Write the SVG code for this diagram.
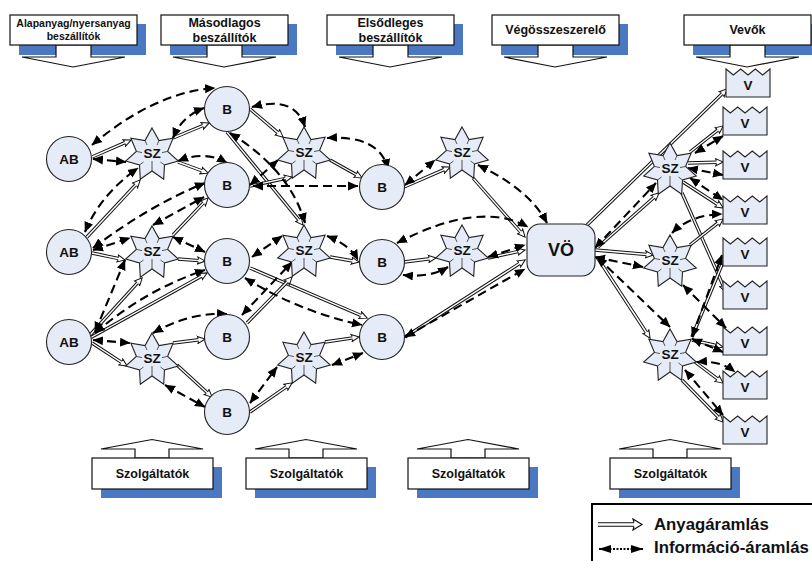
<svg xmlns="http://www.w3.org/2000/svg" width="812" height="561" viewBox="0 0 812 561">
<style>
text{font-family:"Liberation Sans",Arial,sans-serif;font-weight:bold;fill:#111;text-anchor:middle}
.n{fill:#e6ecf7;stroke:#222;stroke-width:1.1}
.r{fill:none;stroke:#444;stroke-width:.9}
.t{font-size:13.5px}
.s{fill:#4a78c2}
.w{fill:#fff;stroke:#111;stroke-width:1.2}
.h{font-size:12.5px}
.mo{fill:none;stroke:#111;stroke-width:3.4}
.mi{fill:none;stroke:#fff;stroke-width:1.4;marker-end:url(#mh)}
.d{fill:none;stroke:#000;stroke-width:2.1;stroke-dasharray:9 5;marker-start:url(#dh);marker-end:url(#dh)}
</style>
<defs>
<marker id="mh" markerUnits="userSpaceOnUse" markerWidth="12" markerHeight="12" refX="2" refY="6" orient="auto" viewBox="0 0 12 12"><path d="M1.5 4.300L.5 2.400L8.200 6L.5 9.600L1.500 7.700" fill="#fff" stroke="#111" stroke-width="1"/></marker>
<marker id="dh" markerUnits="userSpaceOnUse" markerWidth="11" markerHeight="10" refX="10" refY="5" orient="auto-start-reverse" viewBox="0 0 11 10"><path d="M0 .5L10.500 5L0 9.500Z" fill="#000"/></marker>
<marker id="lh" markerUnits="userSpaceOnUse" markerWidth="13" markerHeight="10" refX="12" refY="5" orient="auto-start-reverse" viewBox="0 0 13 10"><path d="M0 1L12.500 5L0 9Z" fill="#000"/></marker>
<marker id="lm" markerUnits="userSpaceOnUse" markerWidth="12" markerHeight="14" refX="2" refY="7" orient="auto" viewBox="0 0 12 14"><path d="M2 4.800L1 1.500L10 7L1 12.500L2 9.200" fill="#fff" stroke="#111" stroke-width="1.200"/></marker>
<g id="star"><path class="n" d="M0-27L7-14.400L21.100-16.800L15.600-3.600L26.300 6L12.500 10L11.700 24.300L0 16L-11.700 24.300L-12.500 10L-26.300 6L-15.600-3.600L-21.100-16.800L-7-14.400Z"/><path class="r" d="M7-14.400L5-10M15.600-3.600L10-2.400M12.500 10L8.500 7M0 16V6M-12.500 10L-8.500 7M-15.600-3.600L-10-2.400M-7-14.400L-5-10"/></g>
<path id="crown" class="n" d="M0 0L7.300 6L14.700 0L22 6L29.300 0L36.700 6L44 0V28H0Z"/>
<g id="top"><rect class="s" x="9" y="9" width="127" height="31"/><path class="w" d="M46 30V42H12L63 52L115 42H81V30Z"/><rect class="w" width="127" height="30"/></g>
<g id="bot"><rect class="s" x="9" y="9" width="121" height="31"/><path class="w" d="M43 0V-9H9L60-18.500L111-9H77V0Z"/><rect class="w" width="121" height="31"/></g>
</defs>

<g id="connectors">
<g id="material">
<path class="mo" d="M92 157L125.500 142.400"/><path class="mi" d="M92 157L125.500 142.400"/>
<path class="mo" d="M173 138L203.500 125.300"/><path class="mi" d="M173 138L203.500 125.300"/>
<path class="mo" d="M178 162L202.400 171"/><path class="mi" d="M178 162L202.400 171"/>
<path class="mo" d="M87 237L136 184.400"/><path class="mi" d="M87 237L136 184.400"/>
<path class="mo" d="M92 253L119 258.700"/><path class="mi" d="M92 253L119 258.700"/>
<path class="mo" d="M173 235L203.900 202.400"/><path class="mi" d="M173 235L203.900 202.400"/>
<path class="mo" d="M178 259L199 260.600"/><path class="mi" d="M178 259L199 260.600"/>
<path class="mo" d="M90 335L138 282.400"/><path class="mi" d="M90 335L138 282.400"/>
<path class="mo" d="M90 338L201.800 275.900"/><path class="mi" d="M90 338L201.800 275.900"/>
<path class="mo" d="M92 343L122 362.700"/><path class="mi" d="M92 343L122 362.700"/>
<path class="mo" d="M173 343L199 339.800"/><path class="mi" d="M173 343L199 339.800"/>
<path class="mo" d="M177 365L207.600 393"/><path class="mi" d="M177 365L207.600 393"/>
<path class="mo" d="M227 132L299.200 220.400"/><path class="mi" d="M227 132L299.200 220.400"/>
<path class="mo" d="M250 109L278.400 133.100"/><path class="mi" d="M250 109L278.400 133.100"/>
<path class="mo" d="M250 186L286.100 178.300"/><path class="mi" d="M250 186L286.100 178.300"/>
<path class="mo" d="M250 268L361.500 315.700"/><path class="mi" d="M250 268L361.500 315.700"/>
<path class="mo" d="M247 323L287.800 281.300"/><path class="mi" d="M247 323L287.800 281.300"/>
<path class="mo" d="M250 412L287 386.400"/><path class="mi" d="M250 412L287 386.400"/>
<path class="mo" d="M330 160L356.800 175"/><path class="mi" d="M330 160L356.800 175"/>
<path class="mo" d="M330 257L353 261"/><path class="mi" d="M330 257L353 261"/>
<path class="mo" d="M325 342L353 337.900"/><path class="mi" d="M325 342L353 337.900"/>
<path class="mo" d="M404 187L444.500 169.400"/><path class="mi" d="M404 187L444.500 169.400"/>
<path class="mo" d="M404 262L430 258.700"/><path class="mi" d="M404 262L430 258.700"/>
<path class="mo" d="M473 178L521 232.500"/><path class="mi" d="M473 178L521 232.500"/>
<path class="mo" d="M488 258L519 251.300"/><path class="mi" d="M488 258L519 251.300"/>
<path class="mo" d="M405 337L520 263.200"/><path class="mi" d="M405 337L520 263.200"/>
<path class="mo" d="M587 225L722.700 93.200"/><path class="mi" d="M587 225L722.700 93.200"/>
<path class="mo" d="M598 247L654.500 197"/><path class="mi" d="M598 247L654.500 197"/>
<path class="mo" d="M595 250L647 254.500"/><path class="mi" d="M595 250L647 254.500"/>
<path class="mo" d="M597 257L646.700 333"/><path class="mi" d="M597 257L646.700 333"/>
<path class="mo" d="M690 152L718.300 129.700"/><path class="mi" d="M690 152L718.300 129.700"/>
<path class="mo" d="M688 163L717 162.200"/><path class="mi" d="M688 163L717 162.200"/>
<path class="mo" d="M683 182L718 204.700"/><path class="mi" d="M683 182L718 204.700"/>
<path class="mo" d="M682 193L723.500 286.500"/><path class="mi" d="M682 193L723.500 286.500"/>
<path class="mo" d="M690 245L718.300 222.700"/><path class="mi" d="M690 245L718.300 222.700"/>
<path class="mo" d="M692 337L723.700 260.500"/><path class="mi" d="M692 337L723.700 260.500"/>
<path class="mo" d="M692 340L717 345.700"/><path class="mi" d="M692 340L717 345.700"/>
<path class="mo" d="M695 362L718.200 379.400"/><path class="mi" d="M695 362L718.200 379.400"/>
<path class="mo" d="M682 380L718.800 417.700"/><path class="mi" d="M682 380L718.800 417.700"/>
</g>
<g id="information">
<path class="d" d="M92 145Q155 92 215 88"/>
<path class="d" d="M93 159L126 162"/>
<path class="d" d="M173 138Q182 116 204 108"/>
<path class="d" d="M178 161Q205 150 227 163"/>
<path class="d" d="M85 232Q100 195 138 168"/>
<path class="d" d="M93 248Q150 205 205 183"/>
<path class="d" d="M153 225L204 197"/>
<path class="d" d="M93 250L130 238"/>
<path class="d" d="M173 237L205 252"/>
<path class="d" d="M95 332L125 260"/>
<path class="d" d="M95 333Q145 290 205 270"/>
<path class="d" d="M93 340L130 343"/>
<path class="d" d="M153 333Q190 312 227 314"/>
<path class="d" d="M165 385L205 407"/>
<path class="d" d="M250 403L277 367"/>
<path class="d" d="M252 107Q295 95 305 127"/>
<path class="d" d="M250 185L278 160"/>
<path class="d" d="M253 186H358"/>
<path class="d" d="M230 133Q290 170 305 223"/>
<path class="d" d="M327 138Q380 135 388 169"/>
<path class="d" d="M252 257L282 236"/>
<path class="d" d="M242 315L292 262"/>
<path class="d" d="M327 236Q350 245 358 260"/>
<path class="d" d="M245 278Q300 312 362 325"/>
<path class="d" d="M332 365L363 353"/>
<path class="d" d="M405 185L435 160"/>
<path class="d" d="M403 275Q430 278 448 267"/>
<path class="d" d="M478 165Q530 190 547 223"/>
<path class="d" d="M488 257L525 245"/>
<path class="d" d="M397 243Q480 200 528 227"/>
<path class="d" d="M405 337L525 269"/>
<path class="d" d="M595 248L656 183"/>
<path class="d" d="M695 153L723 136"/>
<path class="d" d="M688 168L723 175"/>
<path class="d" d="M690 178L723 200"/>
<path class="d" d="M672 233Q690 215 722 214"/>
<path class="d" d="M595 257L643 267"/>
<path class="d" d="M597 257L670 327"/>
<path class="d" d="M683 285L726 328"/>
<path class="d" d="M692 337L722 255"/>
<path class="d" d="M692 339L723 352"/>
<path class="d" d="M697 362Q720 360 735 372"/>
<path class="d" d="M685 370L723 415"/>
</g>
</g>

<g id="hdr-1" transform="translate(10,15)"><use href="#top"/><text x="63.500" y="12" font-size="10.500">Alapanyag/nyersanyag</text><text x="63.500" y="25" font-size="10.500">beszállítók</text></g>
<g id="hdr-2" transform="translate(161,15)"><use href="#top"/><text class="h" x="63.500" y="12">Másodlagos</text><text class="h" x="63.500" y="27">beszállítók</text></g>
<g id="hdr-3" transform="translate(327,15)"><use href="#top"/><text class="h" x="63.500" y="12">Elsődleges</text><text class="h" x="63.500" y="27">beszállítók</text></g>
<g id="hdr-4" transform="translate(492,15)"><use href="#top"/><text class="h" x="63.500" y="19">Végösszeszerelő</text></g>
<g id="hdr-5" transform="translate(684,15)"><use href="#top"/><text class="h" x="63.500" y="19">Vevők</text></g>

<g id="svc-1" transform="translate(92,458)"><use href="#bot"/><text class="h" x="60.500" y="20">Szolgáltatók</text></g>
<g id="svc-2" transform="translate(246,458)"><use href="#bot"/><text class="h" x="60.500" y="20">Szolgáltatók</text></g>
<g id="svc-3" transform="translate(408,458)"><use href="#bot"/><text class="h" x="60.500" y="20">Szolgáltatók</text></g>
<g id="svc-4" transform="translate(610,458)"><use href="#bot"/><text class="h" x="60.500" y="20">Szolgáltatók</text></g>

<g id="ab-1" transform="translate(69,159)"><circle class="n" r="22.500"/><text class="t" y="5">AB</text></g>
<g id="ab-2" transform="translate(69,252)"><circle class="n" r="22.500"/><text class="t" y="5">AB</text></g>
<g id="ab-3" transform="translate(69,342)"><circle class="n" r="22.500"/><text class="t" y="5">AB</text></g>
<g id="b-1" transform="translate(227,109)"><circle class="n" r="22.500"/><text class="t" y="5">B</text></g>
<g id="b-2" transform="translate(227,185)"><circle class="n" r="22.500"/><text class="t" y="5">B</text></g>
<g id="b-3" transform="translate(227,261)"><circle class="n" r="22.500"/><text class="t" y="5">B</text></g>
<g id="b-4" transform="translate(227,337)"><circle class="n" r="22.500"/><text class="t" y="5">B</text></g>
<g id="b-5" transform="translate(227,412)"><circle class="n" r="22.500"/><text class="t" y="5">B</text></g>
<g id="b-6" transform="translate(382,187)"><circle class="n" r="22.500"/><text class="t" y="5">B</text></g>
<g id="b-7" transform="translate(382,262)"><circle class="n" r="22.500"/><text class="t" y="5">B</text></g>
<g id="b-8" transform="translate(382,337)"><circle class="n" r="22.500"/><text class="t" y="5">B</text></g>

<g id="sz-1" transform="translate(152,155)"><use href="#star"/><text class="t" y="3">SZ</text></g>
<g id="sz-2" transform="translate(152,253)"><use href="#star"/><text class="t" y="3">SZ</text></g>
<g id="sz-3" transform="translate(152,360)"><use href="#star"/><text class="t" y="3">SZ</text></g>
<g id="sz-4" transform="translate(304,154)"><use href="#star"/><text class="t" y="3">SZ</text></g>
<g id="sz-5" transform="translate(304,252)"><use href="#star"/><text class="t" y="3">SZ</text></g>
<g id="sz-6" transform="translate(304,359)"><use href="#star"/><text class="t" y="3">SZ</text></g>
<g id="sz-7" transform="translate(462,154)"><use href="#star"/><text class="t" y="3">SZ</text></g>
<g id="sz-8" transform="translate(462,252)"><use href="#star"/><text class="t" y="3">SZ</text></g>
<g id="sz-9" transform="translate(670,170)"><use href="#star"/><text class="t" y="3">SZ</text></g>
<g id="sz-10" transform="translate(670,262)"><use href="#star"/><text class="t" y="3">SZ</text></g>
<g id="sz-11" transform="translate(670,356)"><use href="#star"/><text class="t" y="3">SZ</text></g>

<g id="vo"><rect class="n" x="527" y="224" width="68" height="52" rx="13"/><text x="561" y="256" font-size="18">VÖ</text></g>

<g id="v-1" transform="translate(726,69)"><use href="#crown"/><text class="t" x="22" y="21">V</text></g>
<g id="v-2" transform="translate(723,107)"><use href="#crown"/><text class="t" x="22" y="21">V</text></g>
<g id="v-3" transform="translate(723,151)"><use href="#crown"/><text class="t" x="22" y="21">V</text></g>
<g id="v-4" transform="translate(723,196)"><use href="#crown"/><text class="t" x="22" y="21">V</text></g>
<g id="v-5" transform="translate(723,238)"><use href="#crown"/><text class="t" x="22" y="21">V</text></g>
<g id="v-6" transform="translate(723,281)"><use href="#crown"/><text class="t" x="22" y="21">V</text></g>
<g id="v-7" transform="translate(723,327)"><use href="#crown"/><text class="t" x="22" y="21">V</text></g>
<g id="v-8" transform="translate(723,371)"><use href="#crown"/><text class="t" x="22" y="21">V</text></g>
<g id="v-9" transform="translate(723,416)"><use href="#crown"/><text class="t" x="22" y="21">V</text></g>

<g id="legend">
<rect x="592" y="504" width="225" height="62" fill="#fff" stroke="#000" stroke-width="2"/>
<path d="M598 524.500H634" fill="none" stroke="#111" stroke-width="4.600"/>
<path d="M598 524.500H634" fill="none" stroke="#fff" stroke-width="2.600" marker-end="url(#lm)"/>
<path d="M599 549H643" fill="none" stroke="#000" stroke-width="2" stroke-dasharray="2 1.500" marker-start="url(#lh)" marker-end="url(#lh)"/>
<text x="654" y="530" font-size="16.800" style="text-anchor:start">Anyagáramlás</text>
<text x="654" y="553" font-size="16.800" style="text-anchor:start">Információ-áramlás</text>
</g>
</svg>
